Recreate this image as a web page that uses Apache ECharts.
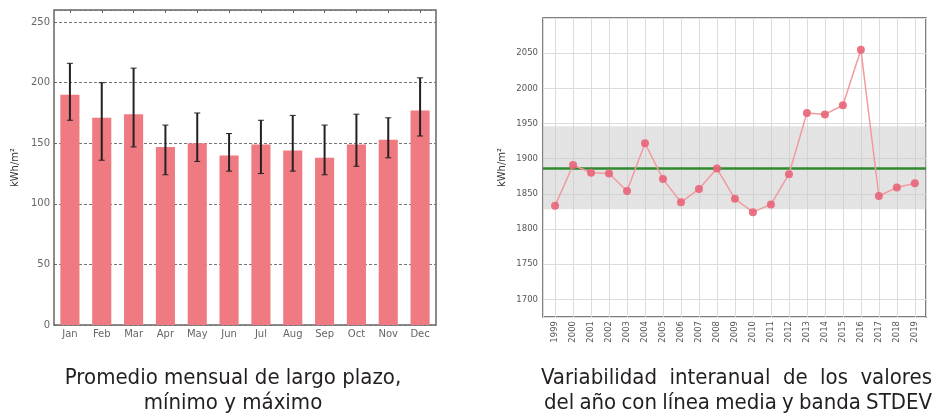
<!DOCTYPE html>
<html>
<head>
<meta charset="utf-8">
<script src="https://cdn.jsdelivr.net/npm/echarts@6/dist/echarts.min.js"></script>
<style>
html,body{margin:0;padding:0;background:#fff;}
#chart{width:936px;height:416px;}
</style>
</head>
<body>
<div id="chart"></div>
<script>
// ---- Left chart data ----
var months = ['Jan','Feb','Mar','Apr','May','Jun','Jul','Aug','Sep','Oct','Nov','Dec'];
var monthMean = [190, 171, 174, 147, 150, 140, 149, 144, 138, 149, 153, 177];
var monthMax  = [216, 200, 212, 165, 175, 158, 169, 173, 165, 174, 171, 204];
var monthMin  = [169, 136, 147, 124, 135, 127, 125, 127, 124, 131, 138, 156];
var leftTicks = [0, 50, 100, 150, 200, 250];

// ---- Right chart data ----
var years = [1999,2000,2001,2002,2003,2004,2005,2006,2007,2008,2009,2010,2011,2012,2013,2014,2015,2016,2017,2018,2019];
var yearValues = [1833,1891,1880,1879,1854,1922,1871,1838,1857,1886,1843,1824,1835,1878,1965,1963,1976,2055,1847,1859,1865];
var meanValue = 1887;
var bandLow = 1828;
var bandHigh = 1946;
var rightTicks = [1700, 1750, 1800, 1850, 1900, 1950, 2000, 2050];

var captionLeft = ['Promedio mensual de largo plazo,', 'mínimo y máximo'];
var captionRight = ['Variabilidad interanual de los valores', 'del año con línea media y banda STDEV'];

var chart = echarts.init(document.getElementById('chart'), null, {renderer: 'canvas'});

var leftFont = {fontFamily: 'DejaVu Sans', fontSize: 10, color: '#666'};
var rightFont = {fontFamily: 'DejaVu Sans', fontSize: 8.5, color: '#555'};
var capFont = '22px "Liberation Sans Narrow", "DejaVu Sans Condensed", sans-serif';

var errData = months.map(function (m, i) { return [i, monthMin[i], monthMax[i]]; });
var lineData = years.map(function (y, i) { return [y, yearValues[i]]; });

// justified caption lines: words spread between x0 and x1
var measureCtx = document.createElement('canvas').getContext('2d');
measureCtx.font = capFont;
function justified(text, x0, x1, y) {
  var words = text.split(' ');
  var widths = words.map(function (w) { return measureCtx.measureText(w).width; });
  var total = widths.reduce(function (a, b) { return a + b; }, 0);
  var gap = words.length > 1 ? (x1 - x0 - total) / (words.length - 1) : 0;
  var out = [], x = x0;
  words.forEach(function (w, i) {
    out.push({type: 'text', x: x, y: y, style: {text: w, font: capFont, fill: '#231f20', textAlign: 'left', textVerticalAlign: 'middle'}});
    x += widths[i] + gap;
  });
  return out;
}

var graphics = [
  {type: 'text', x: 233, y: 378, style: {text: captionLeft[0], font: capFont, fill: '#231f20', textAlign: 'center', textVerticalAlign: 'middle'}},
  {type: 'text', x: 233, y: 403, style: {text: captionLeft[1], font: capFont, fill: '#231f20', textAlign: 'center', textVerticalAlign: 'middle'}}
].concat(justified(captionRight[0], 541, 932, 378), justified(captionRight[1], 544, 932, 403));

var option = {
  backgroundColor: '#fff',
  animation: false,
  grid: [
    {left: 54, top: 10, width: 382, height: 315, show: true, borderColor: '#666', borderWidth: 1.5, backgroundColor: 'transparent'},
    {left: 543, top: 18, width: 383, height: 299, show: true, borderColor: '#555', borderWidth: 1.5, backgroundColor: 'transparent'}
  ],
  xAxis: [
    {type: 'category', gridIndex: 0, data: months, boundaryGap: true,
     axisLine: {show: false}, axisTick: {show: false},
     axisLabel: Object.assign({margin: 4}, leftFont), splitLine: {show: false}},
    {type: 'category', gridIndex: 0, data: months, position: 'top', boundaryGap: true,
     axisLine: {show: false}, axisTick: {show: true, inside: true, alignWithLabel: true, length: 3, lineStyle: {color: '#666'}},
     axisLabel: {show: false}, splitLine: {show: false}},
    {type: 'value', gridIndex: 1, min: 1998.33, max: 2019.62, splitNumber: 21,
     axisLine: {show: false}, axisTick: {show: false},
     axisLabel: Object.assign({rotate: 90, margin: 4, showMinLabel: false, showMaxLabel: false,
        formatter: function (v) { return years.indexOf(Math.round(v)) >= 0 && Math.abs(v - Math.round(v)) < 1e-6 ? String(Math.round(v)) : ''; }}, rightFont),
     splitLine: {show: true, lineStyle: {color: '#dcdcdc', width: 1}}}
  ],
  yAxis: [
    {type: 'value', gridIndex: 0, min: 0, max: 260, interval: 50,
     name: 'kWh/m²', nameLocation: 'middle', nameGap: 34, nameRotate: 90,
     nameTextStyle: {fontFamily: 'DejaVu Sans', fontSize: 10, color: '#333'},
     axisLine: {show: false}, axisTick: {show: true, inside: true, length: 3, lineStyle: {color: '#666'}},
     axisLabel: Object.assign({margin: 4, showMaxLabel: false, formatter: function (v) { return leftTicks.indexOf(v) >= 0 ? String(v) : ''; }}, leftFont),
     splitLine: {show: true, lineStyle: {color: '#777', type: [3, 2], width: 1}}},
    {type: 'value', gridIndex: 1, min: 1675, max: 2100, splitNumber: 8,
     name: 'kWh/m²', nameLocation: 'middle', nameGap: 36, nameRotate: 90,
     nameTextStyle: {fontFamily: 'DejaVu Sans', fontSize: 10, color: '#333'},
     axisLine: {show: false}, axisTick: {show: false},
     axisLabel: Object.assign({margin: 5, showMinLabel: false, showMaxLabel: false,
        formatter: function (v) { return rightTicks.indexOf(v) >= 0 ? String(v) : ''; }}, rightFont),
     splitLine: {show: true, lineStyle: {color: '#dcdcdc', width: 1}}}
  ],
  series: [
    {type: 'bar', xAxisIndex: 0, yAxisIndex: 0, data: monthMean, barWidth: '60%',
     itemStyle: {color: '#f07a82'}, z: 2},
    {type: 'custom', xAxisIndex: 0, yAxisIndex: 0, data: errData, z: 5,
     renderItem: function (params, api) {
       var x = api.value(0);
       var top = api.coord([x, api.value(2)]);
       var bot = api.coord([x, api.value(1)]);
       return {type: 'group', children: [
         {type: 'line', shape: {x1: top[0], y1: top[1], x2: bot[0], y2: bot[1]}, style: {stroke: '#222', lineWidth: 2}},
         {type: 'line', shape: {x1: top[0] - 3, y1: top[1], x2: top[0] + 3, y2: top[1]}, style: {stroke: '#222', lineWidth: 1}},
         {type: 'line', shape: {x1: bot[0] - 3, y1: bot[1], x2: bot[0] + 3, y2: bot[1]}, style: {stroke: '#222', lineWidth: 1}}
       ]};
     }},
    {type: 'line', xAxisIndex: 2, yAxisIndex: 1, data: lineData, z: 5,
     symbol: 'circle', symbolSize: 8,
     lineStyle: {color: '#f29a9e', width: 1.5},
     itemStyle: {color: '#e86478', opacity: 0.9},
     markArea: {silent: true, itemStyle: {color: 'rgba(200,200,200,0.5)'},
       data: [[{yAxis: bandLow}, {yAxis: bandHigh}]]},
     markLine: {silent: true, symbol: 'none', label: {show: false},
       lineStyle: {color: '#2e8b2e', width: 2.5, type: 'solid'},
       data: [{yAxis: meanValue}]}
    }
  ],
  graphic: graphics
};
chart.setOption(option);
</script>
</body>
</html>
